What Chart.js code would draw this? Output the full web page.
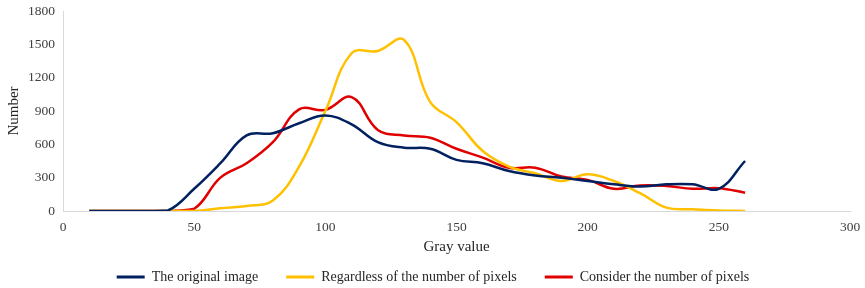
<!DOCTYPE html>
<html>
<head>
<meta charset="utf-8">
<script src="https://cdn.jsdelivr.net/npm/chart.js@4"></script>
<style>
  html, body { margin: 0; padding: 0; background: #fff; }
  #wrap { width: 865px; height: 288px; }
</style>
</head>
<body>
<div id="wrap"><canvas id="myChart" width="865" height="288"></canvas></div>
<script>
// gray values sampled every 10
const grayValues = [10, 20, 30, 40, 50, 60, 70, 80, 90, 100, 110, 120, 130,
    140, 150, 160, 170, 180, 190, 200, 210, 220, 230, 240, 250, 260];

const originalImage = [0, 0, 0, 5, 200, 430, 680, 700, 790, 860, 780, 620, 570,
    560, 460, 430, 360, 320, 300, 270, 240, 220, 240, 240, 200, 450];

const regardlessPixels = [0, 0, 0, 0, 0, 25, 45, 95, 400, 900, 1420, 1440, 1540,
    980, 800, 540, 400, 340, 270, 330, 270, 160, 30, 15, 5, 0];

const considerPixels = [0, 0, 0, 0, 20, 300, 430, 620, 915, 910, 1025, 730, 680,
    660, 560, 480, 390, 390, 310, 280, 200, 230, 225, 200, 205, 165];

const xTicks = [0, 50, 100, 150, 200, 250, 300];
const yTicks = [0, 300, 600, 900, 1200, 1500, 1800];

function toPoints(values) {
    return grayValues.map((g, i) => ({ x: g, y: values[i] }));
}

Chart.defaults.font.family = "'Liberation Serif', 'Times New Roman', serif";
Chart.defaults.color = '#333';

const data = {
    datasets: [{
        label: 'The original image',
        data: toPoints(originalImage),
        borderColor: '#002060',
        backgroundColor: '#002060'
    }, {
        label: 'Regardless of the number of pixels',
        data: toPoints(regardlessPixels),
        borderColor: '#ffc000',
        backgroundColor: '#ffc000'
    }, {
        label: 'Consider the number of pixels',
        data: toPoints(considerPixels),
        borderColor: '#e00000',
        backgroundColor: '#e00000'
    }]
};

const config = {
    type: 'line',
    data: data,
    options: {
        responsive: false,
        animation: false,
        layout: {
            padding: { top: 11, right: 15, left: 16, bottom: -6 }
        },
        elements: {
            line: { borderWidth: 2.5, tension: 0.4 },
            point: { radius: 0 }
        },
        scales: {
            x: {
                type: 'linear',
                min: 0,
                max: 300,
                afterBuildTicks: (scale) => { scale.ticks = xTicks.map(v => ({ value: v })); },
                afterFit: (scale) => {
                    scale.height = 31;
                    scale.paddingLeft = 0;
                    scale.paddingRight = 0;
                },
                ticks: { padding: 8, font: { size: 13.5 }, color: '#404040', callback: (v) => String(v) },
                grid: { display: true, drawOnChartArea: false, drawTicks: false },
                border: { color: '#d9d9d9', width: 1 },
                title: {
                    display: true,
                    text: 'Gray value',
                    font: { size: 15 },
                    color: '#262626',
                    padding: { top: 0, bottom: -14 }
                }
            },
            y: {
                min: 0,
                max: 1800,
                afterBuildTicks: (scale) => { scale.ticks = yTicks.map(v => ({ value: v })); },
                afterFit: (scale) => {
                    scale.width = 47;
                    scale.paddingTop = 0;
                    scale.paddingBottom = 0;
                },
                ticks: { padding: 8, font: { size: 13.5 }, color: '#404040', callback: (v) => String(v) },
                grid: { display: true, drawOnChartArea: false, drawTicks: false },
                border: { color: '#d9d9d9', width: 1 },
                title: {
                    display: true,
                    text: 'Number',
                    font: { size: 15 },
                    color: '#262626',
                    padding: { top: -11, bottom: 0 }
                }
            }
        },
        plugins: {
            legend: {
                position: 'bottom',
                labels: {
                    boxWidth: 28,
                    boxHeight: 3,
                    padding: 28,
                    font: { size: 14 },
                    color: '#262626',
                    generateLabels: (chart) => {
                        const items = Chart.defaults.plugins.legend.labels.generateLabels(chart);
                        items.forEach(item => {
                            item.lineWidth = 0;
                            item.fillStyle = item.strokeStyle;
                        });
                        return items;
                    }
                }
            },
            tooltip: { enabled: false }
        }
    }
};

const myChart = new Chart(document.getElementById('myChart'), config);
</script>
</body>
</html>
